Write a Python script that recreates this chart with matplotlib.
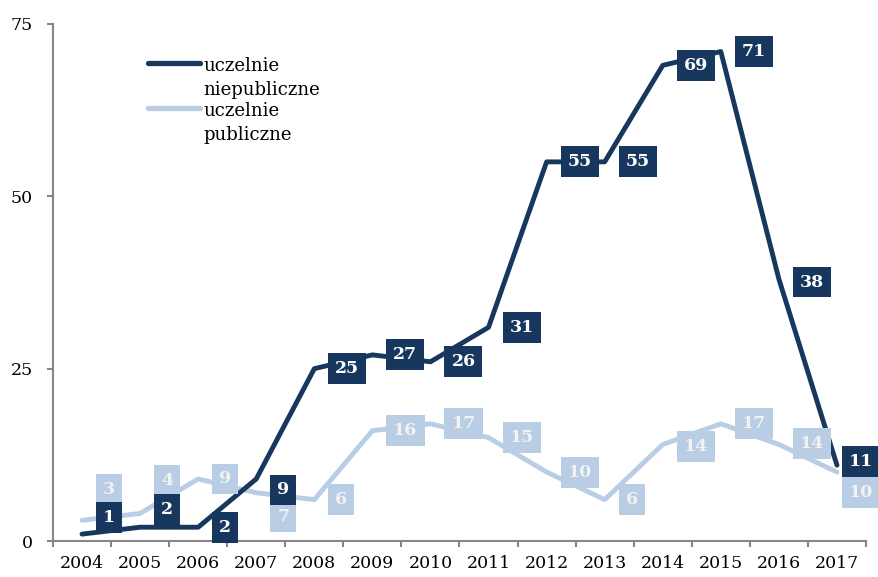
import matplotlib.pyplot as plt

years = [str(y) for y in range(2004, 2018)]
niepubliczne = [1, 2, 2, 9, 25, 27, 26, 31, 55, 55, 69, 71, 38, 11]
publiczne = [3, 4, 9, 7, 6, 16, 17, 15, 10, 6, 14, 17, 14, 10]
series_names = ["uczelnie\nniepubliczne", "uczelnie\npubliczne"]

# manual label shifts (pixels) - labels were dragged around in the original
niep_dy = [17, 18, 0, -11, 0, 0, 0, 0, 0, 0, 0, 0, -3, 4]
publ_dy = [31, 33, 0, -24, 0, 0, 0, 0, 0, 0, -2, 0, 1, -20]
label_dx = [14] * 13 + [5]

DARK = "#17375E"
LIGHT = "#B9CDE5"
AXIS = "#868686"
PX = 72 / 100  # pixels -> points

plt.rcParams['font.family'] = ['DejaVu Serif']

fig = plt.figure(figsize=(8.79, 5.77), dpi=100)
ax = fig.add_axes([53 / 879, 1 - 541 / 577, (866 - 53) / 879, (541 - 24) / 577])

x = list(range(len(years)))
ax.plot(x, publiczne, color=LIGHT, lw=3.5, solid_joinstyle='round',
        solid_capstyle='round', zorder=2)
ax.plot(x, niepubliczne, color=DARK, lw=3.5, solid_joinstyle='round',
        solid_capstyle='round', zorder=3)

pad = 0.4
fs = 12.5
for vals, dys, bg, fg, z in [(publiczne, publ_dy, LIGHT, "#F2F2F2", 4),
                             (niepubliczne, niep_dy, DARK, "white", 5)]:
    for i, v in enumerate(vals):
        off = label_dx[i] + pad * fs / PX
        ax.annotate(str(v), (i, v), xytext=(off * PX, dys[i] * PX),
                    textcoords='offset points', ha='left', va='center',
                    fontsize=fs, fontweight='bold', color=fg, zorder=z,
                    bbox=dict(boxstyle='square,pad=%.2f' % pad, fc=bg, ec='none'))

ax.set_xlim(-0.5, len(years) - 0.5)
ax.set_ylim(0, 75)
ax.set_yticks([0, 25, 50, 75])
ax.set_xticks(x)
ax.set_xticklabels(years)
ax.set_xticks([i - 0.5 for i in range(len(years) + 1)], minor=True)
ax.tick_params(axis='x', which='major', length=0, pad=10, labelsize=12.5)
ax.tick_params(axis='x', which='minor', length=6 * PX, width=1.5, color=AXIS)
ax.tick_params(axis='y', length=6 * PX, width=1.5, color=AXIS, pad=10, labelsize=12.5)

for s in ['top', 'right']:
    ax.spines[s].set_visible(False)
for s in ['left', 'bottom']:
    ax.spines[s].set_color(AXIS)
    ax.spines[s].set_linewidth(1.5)

# legend drawn by hand so the line sits next to the first text line
for name, col, yl in [(series_names[0], DARK, 63), (series_names[1], LIGHT, 108)]:
    fig.add_artist(plt.Line2D([148 / 879, 200 / 879], [1 - yl / 577] * 2, color=col,
                              lw=3.8, solid_capstyle='round'))
    fig.text(203 / 879, 1 - (yl - 6) / 577, name, fontsize=13, va='top',
             ha='left', linespacing=1.4)

fig.savefig("out.png", dpi=100)
